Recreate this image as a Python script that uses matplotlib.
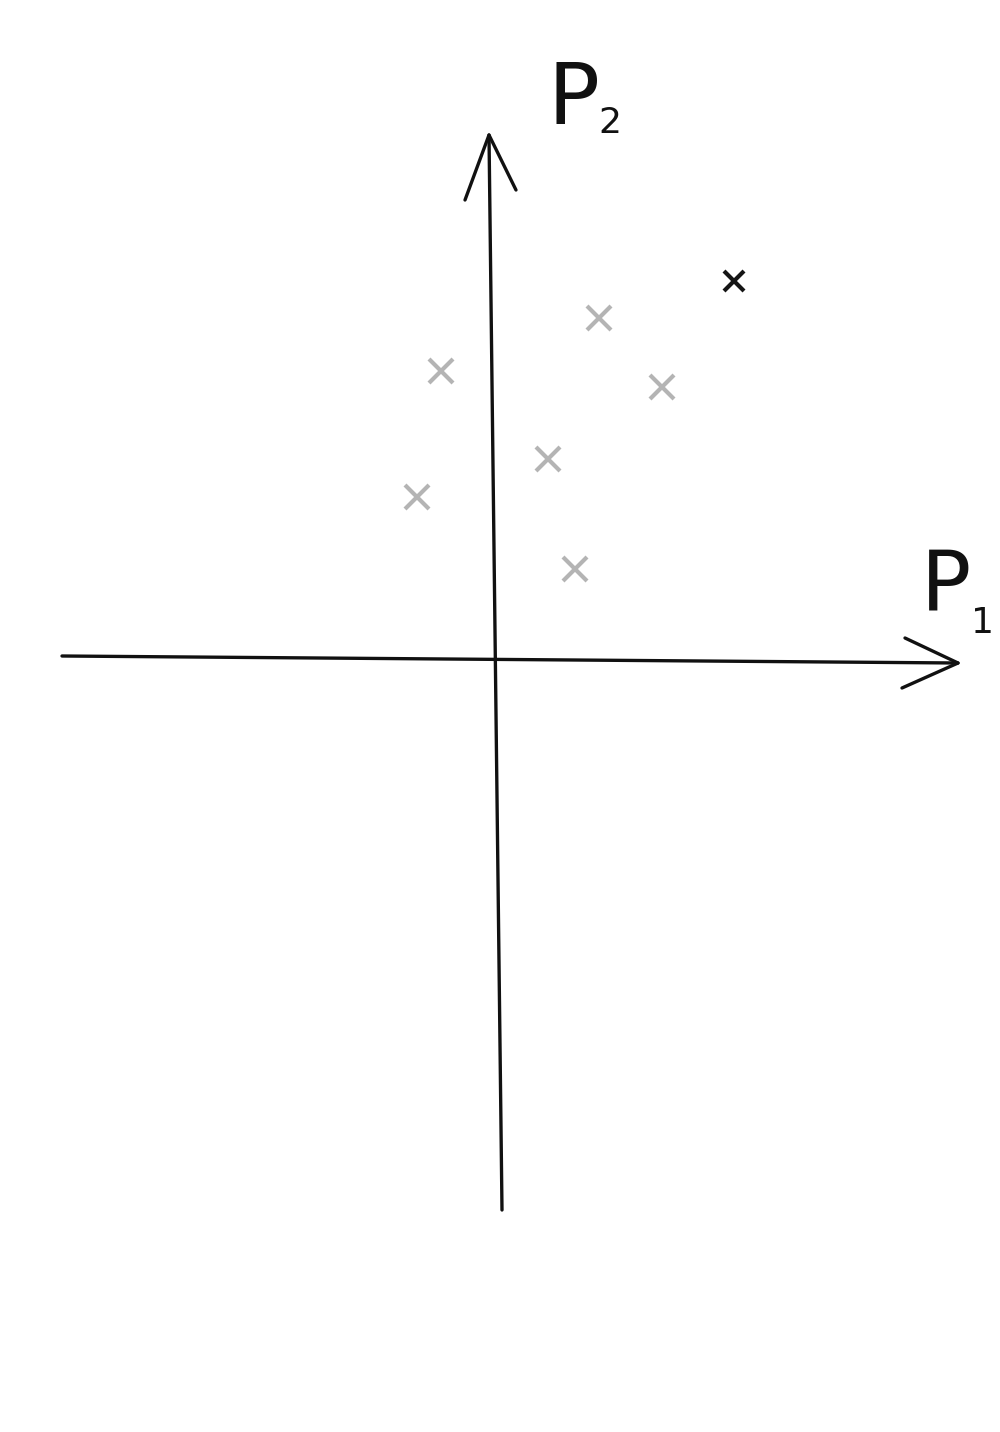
import matplotlib
matplotlib.use("Agg")
import matplotlib.pyplot as plt

# Data (origin of the sketch at the axis crossing, units ~ pixels)
gray_x = [-56, -80, 51, 102, 165, 78]
gray_y = [286, 160, 198, 339, 270, 88]
black_x = [237]
black_y = [376]

x_label = "P"
x_sub = "1"
y_label = "P"
y_sub = "2"

fig = plt.figure(figsize=(10, 14.32), dpi=100)
ax = fig.add_axes([0, 0, 1, 1])
ax.set_xlim(-497, 503)
ax.set_ylim(-775, 657)
ax.axis("off")

lw = 2.4
col = "#111111"
# horizontal axis with arrow head
ax.plot([-435, 461], [1, -6], color=col, lw=lw, solid_capstyle="round")
ax.plot([408, 461, 405], [19, -6, -31], color=col, lw=lw, solid_capstyle="round", solid_joinstyle="round")
# vertical axis with arrow head
ax.plot([-8, 5], [522, -553], color=col, lw=lw, solid_capstyle="round")
ax.plot([-32, -8, 19], [457, 522, 467], color=col, lw=lw, solid_capstyle="round", solid_joinstyle="round")

# points
ax.plot(gray_x, gray_y, "x", color="#b4b4b4", ms=17, mew=3)
ax.plot(black_x, black_y, "x", color="#151515", ms=14, mew=3)

# labels
ax.text(50, 533, y_label, fontsize=62, family="DejaVu Sans", color=col, ha="left", va="baseline")
ax.text(101, 524, y_sub, fontsize=26, family="DejaVu Sans", color=col, ha="left", va="baseline")
ax.text(424, 47, x_label, fontsize=60, family="DejaVu Sans", color=col, ha="left", va="baseline")
ax.text(474, 24, x_sub, fontsize=26, family="DejaVu Sans", color=col, ha="left", va="baseline")

fig.savefig("out.png", dpi=100, facecolor="white")
